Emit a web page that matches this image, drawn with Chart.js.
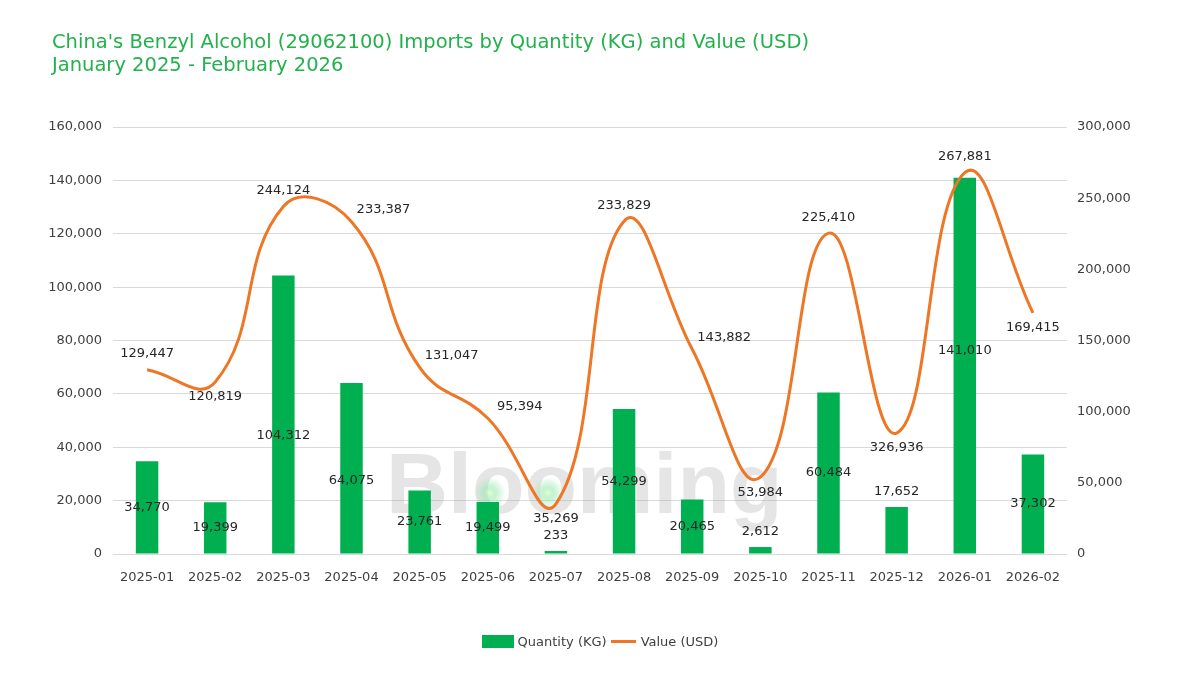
<!DOCTYPE html>
<html><head><meta charset="utf-8">
<script src="https://cdn.jsdelivr.net/npm/chart.js@4.4.1/dist/chart.umd.min.js"></script>
<style>
html,body{margin:0;padding:0;background:#fff;}
#wrap{position:relative;width:1200px;height:675px;overflow:hidden;background:#fff;}
#title{position:absolute;left:52px;top:30px;font-family:'DejaVu Sans',sans-serif;font-size:19.5px;line-height:23px;color:#22B14C;z-index:2;}
#chartBox{position:absolute;left:0;top:0;width:1200px;height:675px;}
#legend{position:absolute;top:634px;left:0;width:1200px;display:flex;justify-content:center;align-items:center;font-family:'DejaVu Sans',sans-serif;font-size:13px;color:#404040;z-index:2;}
.sw{display:inline-block;width:32px;height:13px;background:#00B050;margin-right:4px;}
.ln{display:inline-block;width:25px;height:3px;background:#EE7624;margin:0 5px 0 4px;}
</style>
</head>
<body>
<div id="wrap">
<div id="title">China's Benzyl Alcohol (29062100) Imports by Quantity (KG) and Value (USD)<br>January 2025 - February 2026</div>
<div id="chartBox"><canvas id="c" width="1200" height="675"></canvas></div>
<div id="legend"><span class="sw"></span><span>Quantity (KG)</span><span class="ln"></span><span>Value (USD)</span></div>
</div>
<script>
const categories = ['2025-01','2025-02','2025-03','2025-04','2025-05','2025-06','2025-07','2025-08','2025-09','2025-10','2025-11','2025-12','2026-01','2026-02'];
const quantityKg = [34770,19399,104312,64075,23761,19499,233,54299,20465,2612,60484,17652,141010,37302];
// values as plotted by the line
const valueUsd = [129447,120819,244124,233387,131047,95394,35269,233829,143882,53984,225410,85000,267881,169415];
// values as printed in the line's labels
const valueUsdLabels = [129447,120819,244124,233387,131047,95394,35269,233829,143882,53984,225410,326936,267881,169415];
const leftTicks = {min:0, max:160000, step:20000};
const rightTicks = {min:0, max:300000, step:50000};

const fmt = v => Number(v).toLocaleString('en-US');
const FONT = "'DejaVu Sans', sans-serif";

const linePlacement = ['above','below','above','right','right','right','below','above','right','below','above','below','above','below'];
const barShift = {2:21, 3:12, 12:-15};

const labelPlugin = {
  id:'labels',
  beforeDatasetsDraw(chart){
    const ctx = chart.ctx;
    ctx.save();
    ctx.font = "bold 86px 'Liberation Sans', Arial, sans-serif";
    ctx.fillStyle = 'rgba(170,170,170,0.3)';
    ctx.textAlign = 'left';
    ctx.textBaseline = 'alphabetic';
    ctx.fillText('Blooming', 386, 513);
    [[490,493],[548,493]].forEach(([x,y])=>{
      const g = ctx.createRadialGradient(x,y,0,x,y,16);
      g.addColorStop(0,'rgba(225,255,200,0.9)');
      g.addColorStop(0.4,'rgba(140,230,170,0.5)');
      g.addColorStop(1,'rgba(140,230,170,0)');
      ctx.fillStyle = g;
      ctx.beginPath(); ctx.arc(x,y,16,0,Math.PI*2); ctx.fill();
    });
    ctx.restore();
  },
  afterDatasetsDraw(chart){
    const ctx = chart.ctx;
    ctx.save();
    ctx.font = "13px " + FONT;
    ctx.fillStyle = '#262626';
    ctx.textAlign = 'center';
    ctx.textBaseline = 'middle';
    const barMeta = chart.getDatasetMeta(0);
    barMeta.data.forEach((el,i)=>{
      const h = el.base - el.y;
      let ty;
      if (h < 50) ty = el.y - 15; else ty = (el.y + el.base)/2 + (barShift[i]||0);
      ctx.fillText(fmt(quantityKg[i]), el.x, ty);
    });
    const lineMeta = chart.getDatasetMeta(1);
    lineMeta.data.forEach((el,i)=>{
      let tx = el.x, ty = el.y;
      const p = linePlacement[i];
      if (p==='above') ty -= 16;
      else if (p==='below') ty += 15;
      else { tx += 32; ty -= 12; }
      ctx.fillText(fmt(valueUsdLabels[i]), tx, ty);
    });
    ctx.restore();
  }
};

new Chart(document.getElementById('c'), {
  type:'bar',
  data:{
    labels: categories,
    datasets:[
      {type:'bar', label:'Quantity (KG)', data: quantityKg, backgroundColor:'#00B050', yAxisID:'y', categoryPercentage:0.33, barPercentage:1, minBarLength:3, order:2},
      {type:'line', label:'Value (USD)', data: valueUsd, borderColor:'#EE7624', borderWidth:3, tension:0.45, pointRadius:0, fill:false, yAxisID:'y1', order:1}
    ]
  },
  options:{
    responsive:false,
    animation:false,
    layout:{padding:{top:127,bottom:81,left:0,right:0}},
    plugins:{legend:{display:false}, title:{display:false}, tooltip:{enabled:false}},
    scales:{
      x:{
        grid:{display:false}, border:{display:false},
        ticks:{color:'#404040', font:{family:FONT,size:13}, padding:8, maxRotation:0, autoSkip:false},
        afterFit(s){ s.height = 40; }
      },
      y:{
        position:'left', min:leftTicks.min, max:leftTicks.max,
        ticks:{stepSize:leftTicks.step, color:'#404040', font:{family:FONT,size:13}, padding:11, callback:v=>fmt(v)},
        grid:{color:'#D9D9D9', drawTicks:false}, border:{display:false},
        afterFit(s){ s.width = 113; }
      },
      y1:{
        position:'right', min:rightTicks.min, max:rightTicks.max,
        ticks:{stepSize:rightTicks.step, color:'#404040', font:{family:FONT,size:13}, padding:10, callback:v=>fmt(v)},
        grid:{drawOnChartArea:false, drawTicks:false}, border:{display:false},
        afterFit(s){ s.width = 133; }
      }
    }
  },
  plugins:[labelPlugin]
});
</script>
</body></html>
